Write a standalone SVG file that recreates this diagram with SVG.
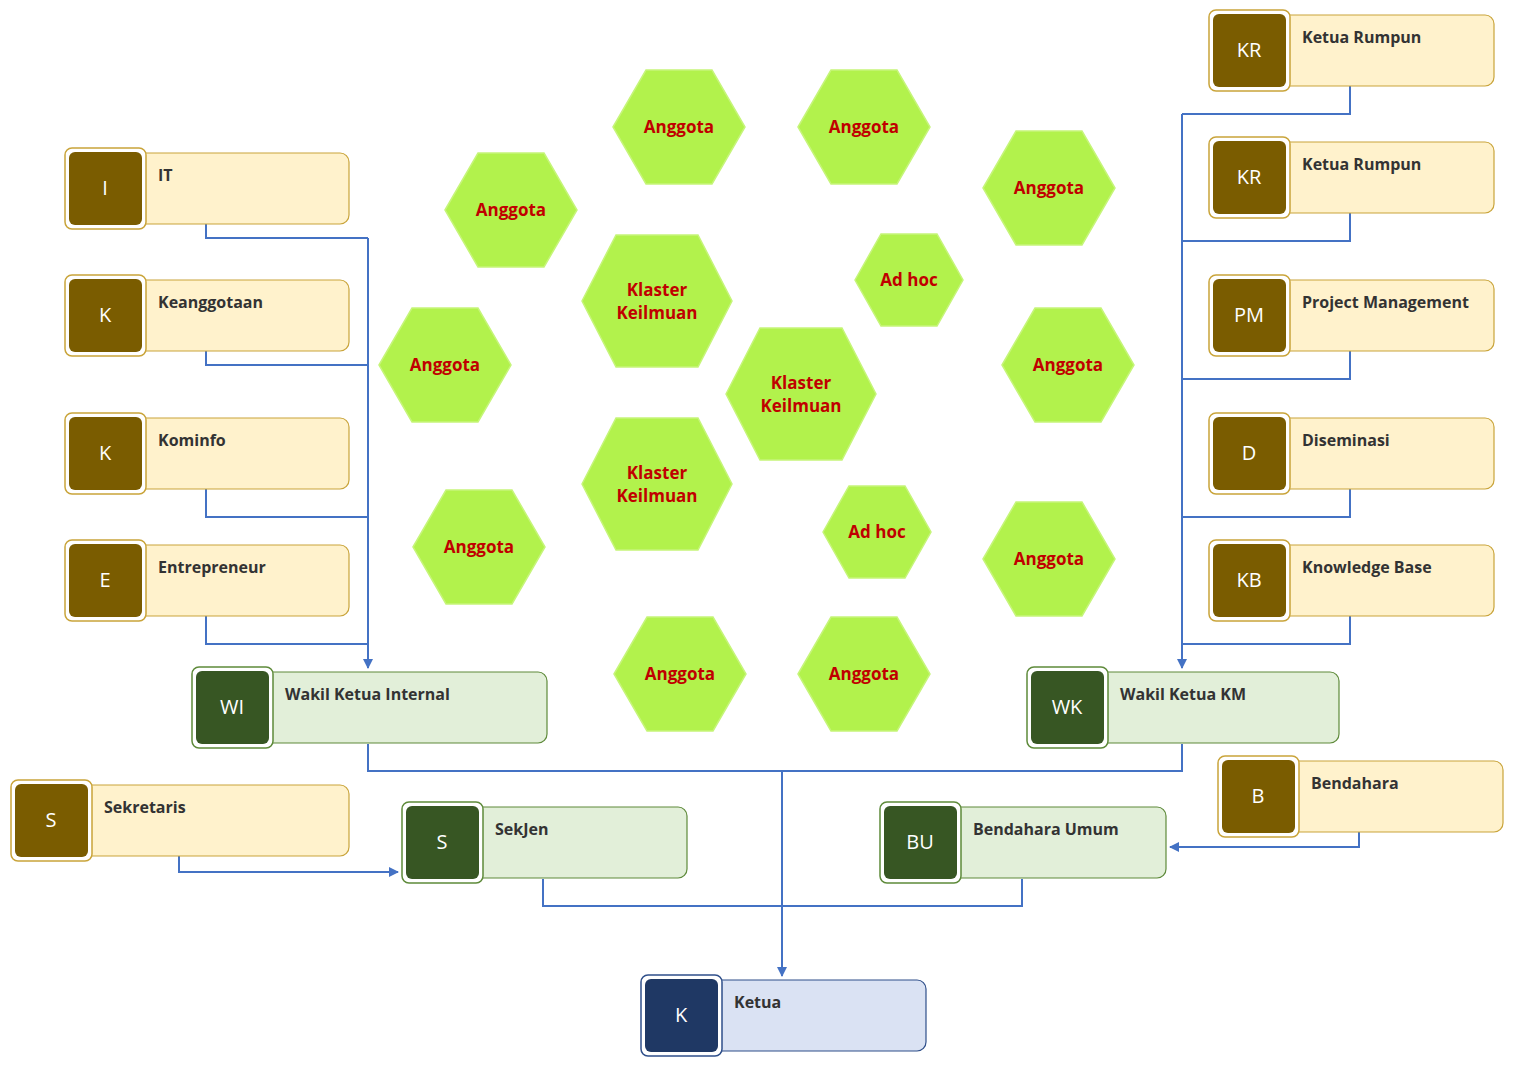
<svg xmlns="http://www.w3.org/2000/svg" width="1514" height="1067" viewBox="0 0 1514 1067">
<defs>
<style>
.o{fill:#fff;stroke-width:1.5}
.y .o,.y .b{stroke:#c9a43a}.y .i{fill:#7a5c00}.y .b{fill:#fff2cc}
.g .o,.g .b{stroke:#5e8a3a}.g .i{fill:#375623}.g .b{fill:#e2efd9}
.k .o,.k .b{stroke:#2f4f8a}.k .i{fill:#1f3864}.k .b{fill:#dae2f3}
.b{stroke-width:1.2}
.l{font-family:"Open Sans","Noto Sans",sans-serif;font-weight:bold;font-size:16px;fill:#333}
.c{font-family:"Open Sans","Noto Sans",sans-serif;font-size:20px;fill:#fff;text-anchor:middle}
.h{fill:#b2f24c;stroke:#c6f57a;stroke-width:1.5}
.ht{font-family:"Open Sans","Noto Sans",sans-serif;font-weight:bold;font-size:17px;fill:#c00000;text-anchor:middle}
.cn{fill:none;stroke:#4472c4;stroke-width:2}
</style>
<marker id="a" markerWidth="10" markerHeight="10" refX="9" refY="5" orient="auto" markerUnits="userSpaceOnUse"><path d="M0,0L10,5L0,10z" fill="#4472c4"/></marker>
</defs>
<g id="connectors">
<path class="cn" d="M206,224V238H368M206,351V365H368M206,489V517H368M206,616V644H368M368,238V668" marker-end="url(#a)"/>
<path class="cn" d="M1350,86V114H1182M1350,213V241H1182M1350,351V379H1182M1350,489V517H1182M1350,616V644H1182M1182,114V668" marker-end="url(#a)"/>
<path class="cn" d="M368,744V771H1182V744"/>
<path class="cn" d="M782,771V976" marker-end="url(#a)"/>
<path class="cn" d="M543,879V906H1022V879"/>
<path class="cn" d="M179,856V872H398" marker-end="url(#a)"/>
<path class="cn" d="M1359,832V847H1170" marker-end="url(#a)"/>
</g>
<g id="n-it" class="y" transform="translate(65,148)"><rect class="b" x="70" y="5" width="214" height="71" rx="9"/><rect class="o" width="81" height="81" rx="7"/><rect class="i" x="4" y="4" width="73" height="73" rx="6"/><text class="c" x="40" y="47">I</text><text class="l" x="93" y="33">IT</text></g>
<g id="n-keang" class="y" transform="translate(65,275)"><rect class="b" x="70" y="5" width="214" height="71" rx="9"/><rect class="o" width="81" height="81" rx="7"/><rect class="i" x="4" y="4" width="73" height="73" rx="6"/><text class="c" x="40" y="47">K</text><text class="l" x="93" y="33">Keanggotaan</text></g>
<g id="n-kominfo" class="y" transform="translate(65,413)"><rect class="b" x="70" y="5" width="214" height="71" rx="9"/><rect class="o" width="81" height="81" rx="7"/><rect class="i" x="4" y="4" width="73" height="73" rx="6"/><text class="c" x="40" y="47">K</text><text class="l" x="93" y="33">Kominfo</text></g>
<g id="n-entre" class="y" transform="translate(65,540)"><rect class="b" x="70" y="5" width="214" height="71" rx="9"/><rect class="o" width="81" height="81" rx="7"/><rect class="i" x="4" y="4" width="73" height="73" rx="6"/><text class="c" x="40" y="47">E</text><text class="l" x="93" y="33">Entrepreneur</text></g>
<g id="n-sekretaris" class="y" transform="translate(11,780)"><rect class="b" x="70" y="5" width="268" height="71" rx="9"/><rect class="o" width="81" height="81" rx="7"/><rect class="i" x="4" y="4" width="73" height="73" rx="6"/><text class="c" x="40" y="47">S</text><text class="l" x="93" y="33">Sekretaris</text></g>
<g id="n-kr1" class="y" transform="translate(1209,10)"><rect class="b" x="70" y="5" width="215" height="71" rx="9"/><rect class="o" width="81" height="81" rx="7"/><rect class="i" x="4" y="4" width="73" height="73" rx="6"/><text class="c" x="40" y="47">KR</text><text class="l" x="93" y="33">Ketua Rumpun</text></g>
<g id="n-kr2" class="y" transform="translate(1209,137)"><rect class="b" x="70" y="5" width="215" height="71" rx="9"/><rect class="o" width="81" height="81" rx="7"/><rect class="i" x="4" y="4" width="73" height="73" rx="6"/><text class="c" x="40" y="47">KR</text><text class="l" x="93" y="33">Ketua Rumpun</text></g>
<g id="n-pm" class="y" transform="translate(1209,275)"><rect class="b" x="70" y="5" width="215" height="71" rx="9"/><rect class="o" width="81" height="81" rx="7"/><rect class="i" x="4" y="4" width="73" height="73" rx="6"/><text class="c" x="40" y="47">PM</text><text class="l" x="93" y="33">Project Management</text></g>
<g id="n-dis" class="y" transform="translate(1209,413)"><rect class="b" x="70" y="5" width="215" height="71" rx="9"/><rect class="o" width="81" height="81" rx="7"/><rect class="i" x="4" y="4" width="73" height="73" rx="6"/><text class="c" x="40" y="47">D</text><text class="l" x="93" y="33">Diseminasi</text></g>
<g id="n-kb" class="y" transform="translate(1209,540)"><rect class="b" x="70" y="5" width="215" height="71" rx="9"/><rect class="o" width="81" height="81" rx="7"/><rect class="i" x="4" y="4" width="73" height="73" rx="6"/><text class="c" x="40" y="47">KB</text><text class="l" x="93" y="33">Knowledge Base</text></g>
<g id="n-bend" class="y" transform="translate(1218,756)"><rect class="b" x="70" y="5" width="215" height="71" rx="9"/><rect class="o" width="81" height="81" rx="7"/><rect class="i" x="4" y="4" width="73" height="73" rx="6"/><text class="c" x="40" y="47">B</text><text class="l" x="93" y="33">Bendahara</text></g>
<g id="n-wi" class="g" transform="translate(192,667)"><rect class="b" x="70" y="5" width="285" height="71" rx="9"/><rect class="o" width="81" height="81" rx="7"/><rect class="i" x="4" y="4" width="73" height="73" rx="6"/><text class="c" x="40" y="47">WI</text><text class="l" x="93" y="33">Wakil Ketua Internal</text></g>
<g id="n-wk" class="g" transform="translate(1027,667)"><rect class="b" x="70" y="5" width="242" height="71" rx="9"/><rect class="o" width="81" height="81" rx="7"/><rect class="i" x="4" y="4" width="73" height="73" rx="6"/><text class="c" x="40" y="47">WK</text><text class="l" x="93" y="33">Wakil Ketua KM</text></g>
<g id="n-sekjen" class="g" transform="translate(402,802)"><rect class="b" x="70" y="5" width="215" height="71" rx="9"/><rect class="o" width="81" height="81" rx="7"/><rect class="i" x="4" y="4" width="73" height="73" rx="6"/><text class="c" x="40" y="47">S</text><text class="l" x="93" y="33">SekJen</text></g>
<g id="n-bu" class="g" transform="translate(880,802)"><rect class="b" x="70" y="5" width="216" height="71" rx="9"/><rect class="o" width="81" height="81" rx="7"/><rect class="i" x="4" y="4" width="73" height="73" rx="6"/><text class="c" x="40" y="47">BU</text><text class="l" x="93" y="33">Bendahara Umum</text></g>
<g id="n-ketua" class="k" transform="translate(641,975)"><rect class="b" x="70" y="5" width="215" height="71" rx="9"/><rect class="o" width="81" height="81" rx="7"/><rect class="i" x="4" y="4" width="73" height="73" rx="6"/><text class="c" x="40" y="47">K</text><text class="l" x="93" y="33">Ketua</text></g>
<g id="hexes">
<g id="h1" transform="translate(679,127)"><polygon class="h" points="-66,0 -33,-57 33,-57 66,0 33,57 -33,57"/><text class="ht" y="6">Anggota</text></g>
<g id="h2" transform="translate(864,127)"><polygon class="h" points="-66,0 -33,-57 33,-57 66,0 33,57 -33,57"/><text class="ht" y="6">Anggota</text></g>
<g id="h3" transform="translate(1049,188)"><polygon class="h" points="-66,0 -33,-57 33,-57 66,0 33,57 -33,57"/><text class="ht" y="6">Anggota</text></g>
<g id="h4" transform="translate(511,210)"><polygon class="h" points="-66,0 -33,-57 33,-57 66,0 33,57 -33,57"/><text class="ht" y="6">Anggota</text></g>
<g id="h5" transform="translate(445,365)"><polygon class="h" points="-66,0 -33,-57 33,-57 66,0 33,57 -33,57"/><text class="ht" y="6">Anggota</text></g>
<g id="h6" transform="translate(1068,365)"><polygon class="h" points="-66,0 -33,-57 33,-57 66,0 33,57 -33,57"/><text class="ht" y="6">Anggota</text></g>
<g id="h7" transform="translate(479,547)"><polygon class="h" points="-66,0 -33,-57 33,-57 66,0 33,57 -33,57"/><text class="ht" y="6">Anggota</text></g>
<g id="h8" transform="translate(1049,559)"><polygon class="h" points="-66,0 -33,-57 33,-57 66,0 33,57 -33,57"/><text class="ht" y="6">Anggota</text></g>
<g id="h9" transform="translate(680,674)"><polygon class="h" points="-66,0 -33,-57 33,-57 66,0 33,57 -33,57"/><text class="ht" y="6">Anggota</text></g>
<g id="h10" transform="translate(864,674)"><polygon class="h" points="-66,0 -33,-57 33,-57 66,0 33,57 -33,57"/><text class="ht" y="6">Anggota</text></g>
<g id="k1" transform="translate(657,301)"><polygon class="h" points="-75,0 -41,-66 41,-66 75,0 41,66 -41,66"/><text class="ht" y="-5" font-size="16">Klaster</text><text class="ht" y="18" font-size="16">Keilmuan</text></g>
<g id="k2" transform="translate(801,394)"><polygon class="h" points="-75,0 -41,-66 41,-66 75,0 41,66 -41,66"/><text class="ht" y="-5" font-size="16">Klaster</text><text class="ht" y="18" font-size="16">Keilmuan</text></g>
<g id="k3" transform="translate(657,484)"><polygon class="h" points="-75,0 -41,-66 41,-66 75,0 41,66 -41,66"/><text class="ht" y="-5" font-size="16">Klaster</text><text class="ht" y="18" font-size="16">Keilmuan</text></g>
<g id="a1" transform="translate(909,280)"><polygon class="h" points="-54,0 -28,-46 28,-46 54,0 28,46 -28,46"/><text class="ht" y="6" font-size="16">Ad hoc</text></g>
<g id="a2" transform="translate(877,532)"><polygon class="h" points="-54,0 -28,-46 28,-46 54,0 28,46 -28,46"/><text class="ht" y="6" font-size="16">Ad hoc</text></g>
</g>
</svg>
